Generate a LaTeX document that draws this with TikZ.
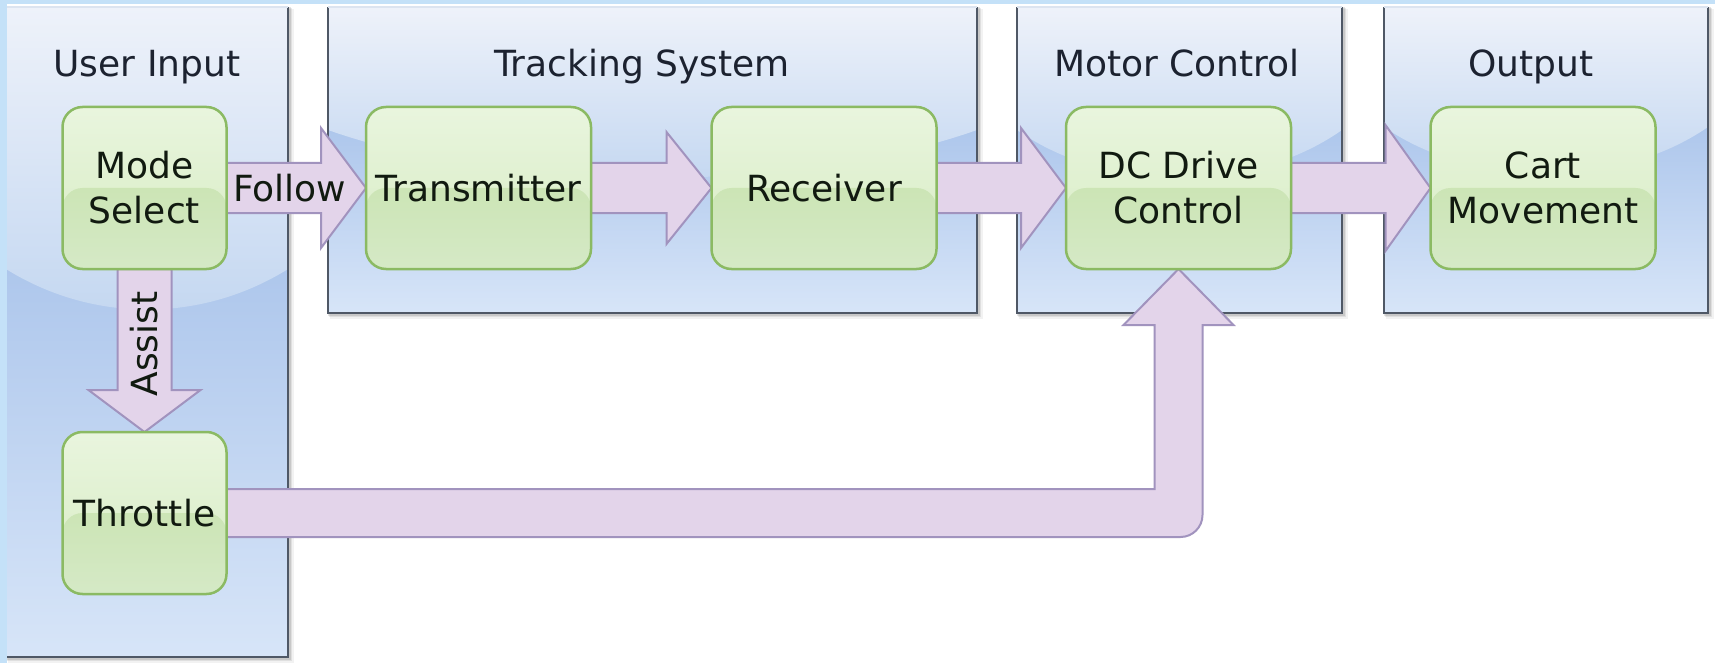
\documentclass[tikz,border=0pt]{standalone}
\usepackage{fontspec}
\setmainfont{DejaVu Sans}
\usetikzlibrary{calc}

\definecolor{stripblue}{HTML}{C4E1F8}
\definecolor{boxtop}{HTML}{E9F5DE}
\definecolor{boxmid}{HTML}{D6ECC2}
\definecolor{boxlow}{HTML}{C3E1A5}
\definecolor{boxbot}{HTML}{D5E9C6}
\definecolor{boxedge}{HTML}{8BBA63}
\definecolor{paneltop}{HTML}{EEF2FA}
\definecolor{panelmid}{HTML}{C5D8F1}
\definecolor{panellow}{HTML}{AEC7EC}
\definecolor{panelbot}{HTML}{D7E5F8}
\definecolor{paneledge}{HTML}{4F5866}
\definecolor{panelrim}{HTML}{DCE4F0}
\definecolor{arrowfill}{HTML}{E3D4EA}
\definecolor{arrowedge}{HTML}{A193BE}
\definecolor{titletext}{HTML}{1C2230}
\definecolor{labeltext}{HTML}{111A10}

\pgfdeclarelayer{bg}
\pgfdeclarelayer{conn}
\pgfsetlayers{bg,conn,main}

\tikzset{
  lbl/.style={font=\fontsize{36}{45}\selectfont, text=labeltext, inner sep=0pt, align=center},
  paneltitle/.style={font=\fontsize{36}{45}\selectfont, text=titletext, inner sep=0pt, anchor=base},
  gbox/.style={lbl, draw=boxedge, line width=2.5pt, rounded corners=20pt,
    outer sep=0pt, minimum width=#1, minimum height=162pt,
    top color=boxtop, bottom color=boxmid,
    path picture={\shade[top color=boxlow, bottom color=boxbot]
      (path picture bounding box.west) rectangle (path picture bounding box.south east);}},
  gbox/.default=225pt,
  barrow/.style={fill=arrowfill, draw=arrowedge, line width=2pt, line join=miter},
}

% glossy group panel: x0, y0, x1, y1, depth of the highlight arc at the sides, arc width factor
\newcommand{\glosspanel}[6]{%
  \pgfmathsetmacro{\pw}{#3-#1}%
  \pgfmathsetmacro{\pa}{#6*\pw}%
  \pgfmathsetmacro{\pb}{#5/sqrt(1-(0.5/#6)^2)}%
  \pgfmathsetmacro{\pc}{(#1+#3)/2}%
  \fill[black,opacity=0.05] (#1+2,#2+2) rectangle (#3+6,#4+6);
  \fill[black,opacity=0.08] (#1+1,#2+1) rectangle (#3+4,#4+4);
  \fill[black,opacity=0.10] (#1,#2) rectangle (#3+2.5,#4+2.5);
  \begin{scope}
    \clip (#1,#2) rectangle (#3,#4);
    \shade[top color=panellow, bottom color=panelbot] (#1,#2+#5) rectangle (#3,#4);
    \fill[panellow] (#1,#2) rectangle (#3,#2+#5);
    \clip (\pc,#2) ellipse[x radius=\pa, y radius=\pb];
    \shade[top color=paneltop, bottom color=panelmid] (#1,#2) rectangle (#3,#2+\pb);
  \end{scope}
  \draw[paneledge, line width=2.5pt] (#1,#2) -- (#1,#4) -- (#3,#4) -- (#3,#2);
  \draw[panelrim, line width=1.5pt] (#1,#2) -- (#3,#2);
}

% horizontal block arrow between two boxes: from, to, shaft half-height, head half-height
\newcommand{\harrow}[4]{%
  \path[barrow] ($(#1.east |- #2.west)+(0,-#3)$) -- ($(#2.west)+(-45,-#3)$)
    -- ($(#2.west)+(-45,-#4)$) -- (#2.west) -- ($(#2.west)+(-45,#4)$)
    -- ($(#2.west)+(-45,#3)$) -- ($(#1.east |- #2.west)+(0,#3)$) -- cycle;
}

\begin{document}
\begin{tikzpicture}[x=1pt, y=-1pt]
  \useasboundingbox (0,0) rectangle (1715,663);

  % page and group panels
  \begin{pgfonlayer}{bg}
    \fill[white] (0,0) rectangle (1715,663);
    \glosspanel{6}{7}{288}{657}{262}{1.0}
    \glosspanel{328}{7}{977}{313}{123}{0.72}
    \glosspanel{1017}{7}{1342}{313}{123}{0.72}
    \glosspanel{1384}{7}{1708}{313}{120}{0.72}
  \end{pgfonlayer}

  % panel titles
  \node[paneltitle] (tuser)  at (147,77)    {User Input};
  \node[paneltitle] (ttrack) at (642,77)    {Tracking System};
  \node[paneltitle] (tmotor) at (1177,77)   {Motor Control};
  \node[paneltitle] (tout)   at (1531,77)   {Output};

  % process boxes
  \node[gbox=164pt] (ms) at (144.5,188) {Mode\\Select};
  \node[gbox=164pt] (th) at (144.5,513) {Throttle};
  \node[gbox] (tx) at (478.5,188) {Transmitter};
  \node[gbox] (rx) at (824,188)   {Receiver};
  \node[gbox] (dc) at (1178.5,188) {DC Drive\\Control};
  \node[gbox] (cm) at (1543,188)  {Cart\\Movement};

  % connectors
  \begin{pgfonlayer}{conn}
    \harrow{ms}{tx}{25}{60}
    \harrow{tx}{rx}{25}{56}
    \harrow{rx}{dc}{25}{60}
    \harrow{dc}{cm}{25}{63}
    % mode select down to throttle
    \path[barrow] ($(ms.south)+(-27,0)$) -- ($(th.north)+(-27,-42)$)
      -- ($(th.north)+(-56,-42)$) -- (th.north) -- ($(th.north)+(56,-42)$)
      -- ($(th.north)+(27,-42)$) -- ($(ms.south)+(27,0)$) -- cycle;
    % throttle round to the drive control
    \path[barrow] ($(th.east)+(0,-24)$) -- ($(dc.south |- th.east)+(-24,-24)$)
      -- ($(dc.south)+(-24,56)$) -- ($(dc.south)+(-55,56)$) -- (dc.south)
      -- ($(dc.south)+(55,56)$) -- ($(dc.south)+(24,56)$)
      -- ($(dc.south |- th.east)+(24,2)$) arc[start angle=0, end angle=90, radius=22]
      -- ($(th.east)+(0,24)$) -- cycle;
  \end{pgfonlayer}

  % connector labels
  \node[lbl] (follow) at ($(ms.east)+(63,0)$) {Follow};
  \node[lbl, rotate=90] (assist) at ($(th.north)+(0,-88)$) {Assist};

  % window edge
  \fill[stripblue] (0,0) rectangle (1715,4);
  \fill[stripblue] (0,0) rectangle (7,663);
\end{tikzpicture}
\end{document}
